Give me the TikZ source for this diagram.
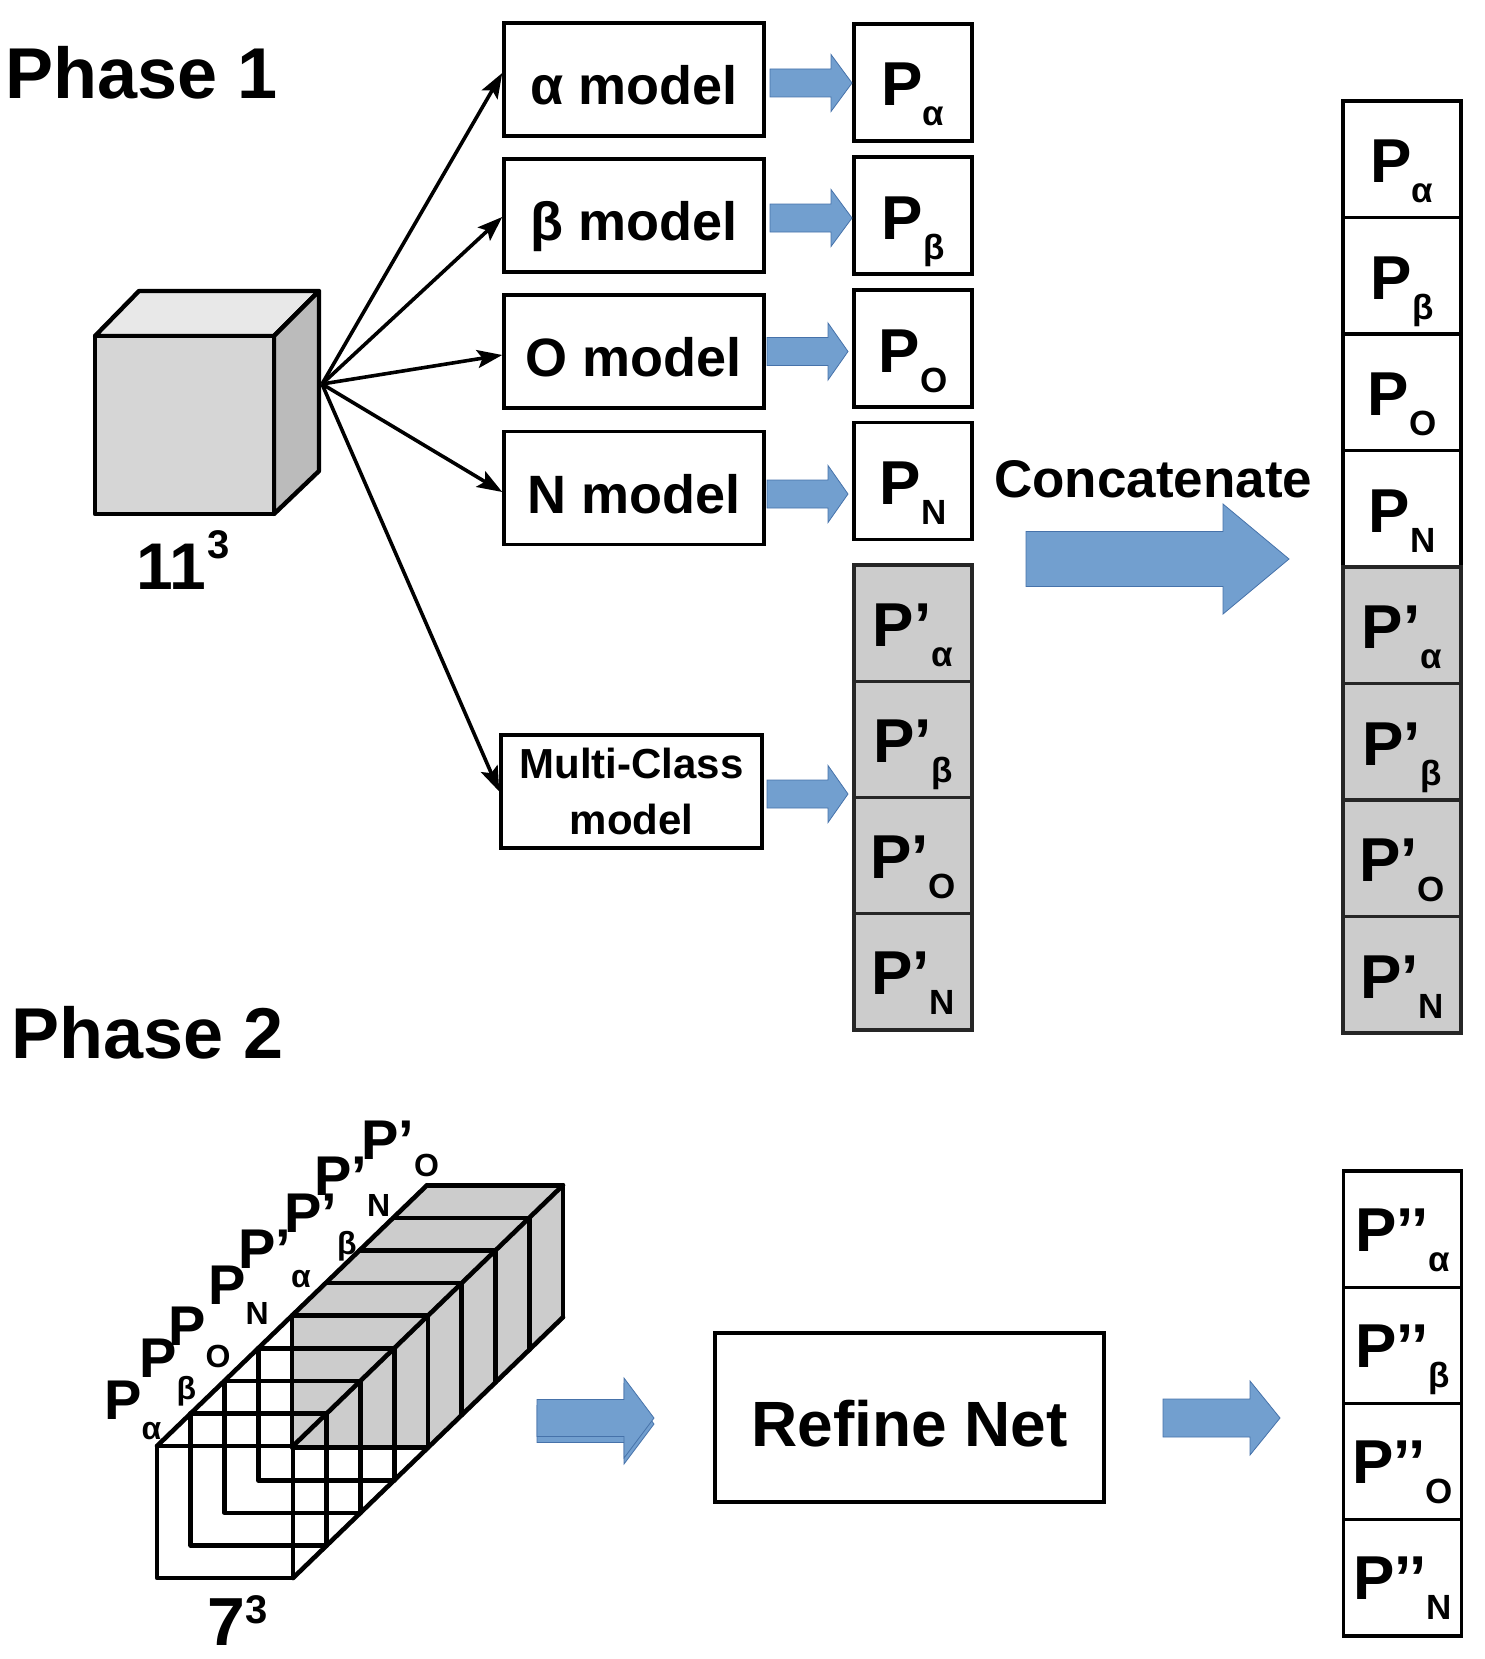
\documentclass[tikz,border=0pt]{standalone}
\usepackage{fontspec}
\setmainfont{Liberation Sans}
\usetikzlibrary{arrows.meta,calc}
\definecolor{blu}{RGB}{114,159,207}
\definecolor{bluedge}{RGB}{70,114,170}
\definecolor{cubefront}{RGB}{214,214,214}
\definecolor{cubetop}{RGB}{232,232,232}
\definecolor{cuberight}{RGB}{187,187,187}
\definecolor{pgray}{RGB}{204,204,204}
\newcommand\fs[1]{\fontsize{#1}{#1}\selectfont}
\newcommand\Ptx[2]{#1\raisebox{-20pt}{\fs{35}#2}}
\newcommand\blockarrow[6]{%
  \filldraw[barrow] (#1,#4-#5) -- (#2,#4-#5) -- (#2,#4-#6) -- (#3,#4) -- (#2,#4+#6) -- (#2,#4+#5) -- (#1,#4+#5) -- cycle;}
\begin{document}
\begin{tikzpicture}[x=1pt,y=-1pt,
  box/.style={draw, line width=3.5pt, inner sep=0pt, fill=white},
  modelbox/.style={box, minimum width=260pt, minimum height=113pt, text height=50pt, text depth=0pt, font=\fs{54}\bfseries},
  cell/.style={draw, line width=3.2pt, inner sep=0pt, minimum width=118pt, minimum height=117pt, fill=white},
  gcell/.style={cell, fill=pgray, draw=black!85, minimum height=116.25pt},
  ptxt/.style={anchor=base, inner sep=0pt, font=\fs{62}\bfseries},
  lbl/.style={anchor=base west, inner sep=0pt},
  slab/.style={lbl, font=\fs{56}\bfseries},
  conn/.style={line width=3.6pt, -{Stealth[length=25pt,width=18pt,inset=5pt]}},
  barrow/.style={fill=blu, draw=bluedge, line width=0.8pt},
  stk/.style={line width=4.6pt, line join=round, line cap=round},
  cubeln/.style={line width=4.4pt, line join=round, draw=black}]
\useasboundingbox (0,0) rectangle (1485,1659);

% ---------- Phase 1 ----------
\node[lbl, font=\fs{72}\bfseries] (ph1) at (5,99) {Phase 1};

% cube 11^3
\filldraw[cubeln, fill=cubetop] (95,336) -- (139,291) -- (319,291) -- (274,336) -- cycle;
\filldraw[cubeln, fill=cuberight] (274,336) -- (319,291) -- (319,471) -- (274,514) -- cycle;
\filldraw[cubeln, fill=cubefront] (95,336) rectangle (274,514);
\coordinate (src) at (322,384);
\node[lbl, font=\fs{66}\bfseries] (c11) at (136,589) {11\kern2pt\raisebox{31pt}{\fs{40}3}};

% model boxes
\node[modelbox] (am) at (634,79.5) {α model};
\node[modelbox] (bm) at (634,215.5) {β model};
\node[modelbox] (om) at (634,351.5) {O model};
\node[modelbox] (nm) at (634,488) {N model};
\node[box, minimum width=261pt, minimum height=113pt, align=center,
      font=\fontsize{42}{56}\selectfont\bfseries] (mm) at (631.5,791.5) {Multi-Class\\model};

% black arrows
\draw[conn] (src) -- ([yshift=6.5pt]am.west);
\draw[conn] (src) -- ([yshift=-1.5pt]bm.west);
\draw[conn] (src) -- ([yshift=-3.5pt]om.west);
\draw[conn] (src) -- ([yshift=-4pt]nm.west);
\draw[conn] (src) -- (mm.west);

% P cells phase 1
\node[cell] (pa) at (913,82.5) {};
\node[cell] (pb) at (913,215.5) {};
\node[cell] (po) at (913,348.5) {};
\node[cell] (pn) at (913,481) {};
\node[ptxt] at ([yshift=-23.5pt]pa.center) {\Ptx{P}{α}};
\node[ptxt] at ([yshift=-23.5pt]pb.center) {\Ptx{P}{β}};
\node[ptxt] at ([yshift=-23.5pt]po.center) {\Ptx{P}{O}};
\node[ptxt] at ([yshift=-23.5pt]pn.center) {\Ptx{P}{N}};

\node[gcell] (qa) at (913,623.1) {};
\node[gcell] (qb) at (913,739.4) {};
\node[gcell] (qo) at (913,855.6) {};
\node[gcell] (qn) at (913,971.9) {};
\node[ptxt] at ([yshift=-23pt]qa.center) {\Ptx{P’}{α}};
\node[ptxt] at ([yshift=-23pt]qb.center) {\Ptx{P’}{β}};
\node[ptxt] at ([yshift=-23pt]qo.center) {\Ptx{P’}{O}};
\node[ptxt] at ([yshift=-23pt]qn.center) {\Ptx{P’}{N}};

% blue arrows phase 1
\blockarrow{770}{831}{852}{83}{14}{28.5}
\blockarrow{770}{831}{852}{218}{14}{28.5}
\blockarrow{767}{828}{848}{351.5}{14}{28.5}
\blockarrow{767}{828}{848}{494}{14}{28.5}
\blockarrow{767}{828}{848}{794}{14}{28.5}

% concatenate
\node[lbl, font=\fs{53}\bfseries] (cat) at (994,497) {Concatenate};
\blockarrow{1026}{1223}{1289}{559}{27.5}{55}

% right column
\node[cell, minimum height=116.5pt] (ra) at (1402,159.25) {};
\node[cell, minimum height=116.5pt] (rb) at (1402,275.75) {};
\node[cell, minimum height=116.5pt] (ro) at (1402,392.25) {};
\node[cell, minimum height=116.5pt] (rn1) at (1402,508.75) {};
\node[gcell, minimum height=116.5pt] (sa) at (1402,625.25) {};
\node[gcell, minimum height=116.5pt] (sb) at (1402,741.75) {};
\node[gcell, minimum height=116.5pt] (so) at (1402,858.25) {};
\node[gcell, minimum height=116.5pt] (sn) at (1402,974.75) {};
\node[ptxt] at ([yshift=-23.5pt]ra.center) {\Ptx{P}{α}};
\node[ptxt] at ([yshift=-23.5pt]rb.center) {\Ptx{P}{β}};
\node[ptxt] at ([yshift=-23.5pt]ro.center) {\Ptx{P}{O}};
\node[ptxt] at ([yshift=-23.5pt]rn1.center) {\Ptx{P}{N}};
\node[ptxt] at ([yshift=-23.5pt]sa.center) {\Ptx{P’}{α}};
\node[ptxt] at ([yshift=-23.5pt]sb.center) {\Ptx{P’}{β}};
\node[ptxt] at ([yshift=-23.5pt]so.center) {\Ptx{P’}{O}};
\node[ptxt] at ([yshift=-23.5pt]sn.center) {\Ptx{P’}{N}};

% ---------- Phase 2 ----------
\node[lbl, font=\fs{72}\bfseries] (ph2) at (11,1058) {Phase 2};

% stack of 8 slices
\def\sdx{33.75}
\def\sdy{32.6}
\fill[pgray] (292,1447.6) -- (292,1315.6) -- (427,1185.2) -- (563,1185.2) -- (563,1317.2) -- (428,1447.6) -- cycle;
\foreach \k in {0,...,4} \draw[stk] ({157+\sdx*\k},{1446-\sdy*\k}) rectangle ++(136,132);
\foreach \k in {5,...,8} \draw[stk] ({157+\sdx*\k},{1446-\sdy*\k}) -- ++(136,0) -- ++(0,132);
\draw[stk] (157,1446) -- (427,1185.2);
\draw[stk] (293,1446) -- (563,1185.2);
\draw[stk] (293,1578) -- (563,1317.2);

\node[slab] (l0) at (104,1419) {P\raisebox{-20pt}{\fs{32}α}};
\node[slab] (l1) at (139,1377) {P\raisebox{-22pt}{\fs{32}β}};
\node[slab] (l2) at (168,1345) {P\raisebox{-22pt}{\fs{32}O}};
\node[slab] (l3) at (208,1304) {P\raisebox{-20pt}{\fs{32}N}};
\node[slab] (l4) at (238,1268) {P’\raisebox{-19pt}{\fs{32}α}};
\node[slab] (l5) at (284,1232) {P’\raisebox{-22pt}{\fs{32}β}};
\node[slab] (l6) at (314,1195) {P’\raisebox{-21pt}{\fs{32}N}};
\node[slab] (l7) at (361,1159) {P’\raisebox{-17pt}{\fs{32}O}};
\node[lbl, font=\fs{68}\bfseries] (c7) at (207,1645) {7\raisebox{22pt}{\fs{40}3}};

% arrows and refine net
\blockarrow{537}{624}{654}{1424}{18.5}{40}
\blockarrow{537}{624}{654}{1418}{18.5}{40}
\node[box, minimum width=389pt, minimum height=169pt, text height=57pt, text depth=0pt,
      font=\fs{64}\bfseries] (rnet) at (909.5,1417.5) {Refine Net};
\blockarrow{1163}{1250}{1280}{1418}{19}{37}

% P'' column
\node[cell, minimum height=116.25pt] (ta) at (1402.5,1229.1) {};
\node[cell, minimum height=116.25pt] (tb) at (1402.5,1345.4) {};
\node[cell, minimum height=116.25pt] (to) at (1402.5,1461.6) {};
\node[cell, minimum height=116.25pt] (tn) at (1402.5,1577.9) {};
\node[ptxt] at ([yshift=-22pt]ta.center) {\Ptx{P’’}{α}};
\node[ptxt] at ([yshift=-22pt]tb.center) {\Ptx{P’’}{β}};
\node[ptxt] at ([yshift=-22pt]to.center) {\Ptx{P’’}{O}};
\node[ptxt] at ([yshift=-22pt]tn.center) {\Ptx{P’’}{N}};
\end{tikzpicture}
\end{document}
